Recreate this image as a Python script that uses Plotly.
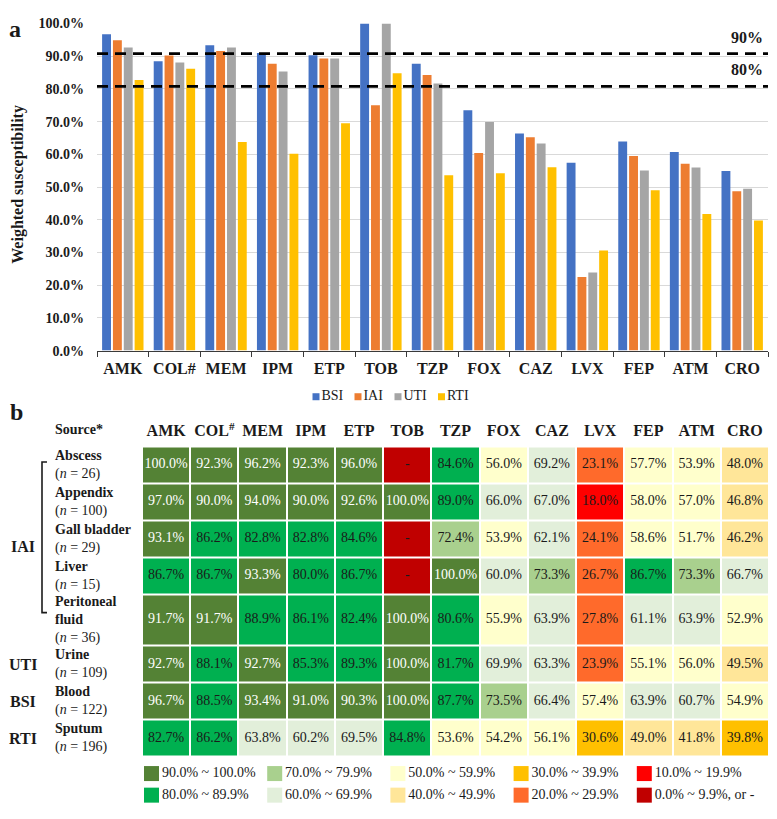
####################################################################################################################
# plot.py
#
# a: weighted susceptibility bars by infection source
# b: susceptibility table (heatmap) by specimen source

####################################################################################################################
# IMPORTS
import plotly.graph_objects as go


####################################################################################################################
# DATA
drugs = ['AMK', 'COL#', 'MEM', 'IPM', 'ETP', 'TOB', 'TZP', 'FOX', 'CAZ', 'LVX', 'FEP', 'ATM', 'CRO']
drug_heads = ['AMK', 'COL<sup>#</sup>', 'MEM', 'IPM', 'ETP', 'TOB', 'TZP', 'FOX', 'CAZ', 'LVX', 'FEP', 'ATM', 'CRO']

# weighted IAI susceptibility
iai_weighted = [94.9, 90.2, 91.6, 87.7, 89.3, 75.0, 84.3, 60.4, 65.2, 22.5, 59.5, 57.1, 48.7]

# panel b rows (None = '-')
abscess = [100.0, 92.3, 96.2, 92.3, 96.0, None, 84.6, 56.0, 69.2, 23.1, 57.7, 53.9, 48.0]
appendix = [97.0, 90.0, 94.0, 90.0, 92.6, 100.0, 89.0, 66.0, 67.0, 18.0, 58.0, 57.0, 46.8]
gall_bladder = [93.1, 86.2, 82.8, 82.8, 84.6, None, 72.4, 53.9, 62.1, 24.1, 58.6, 51.7, 46.2]
liver = [86.7, 86.7, 93.3, 80.0, 86.7, None, 100.0, 60.0, 73.3, 26.7, 86.7, 73.3, 66.7]
peritoneal = [91.7, 91.7, 88.9, 86.1, 82.4, 100.0, 80.6, 55.9, 63.9, 27.8, 61.1, 63.9, 52.9]
urine = [92.7, 88.1, 92.7, 85.3, 89.3, 100.0, 81.7, 69.9, 63.3, 23.9, 55.1, 56.0, 49.5]
blood = [96.7, 88.5, 93.4, 91.0, 90.3, 100.0, 87.7, 73.5, 66.4, 57.4, 63.9, 60.7, 54.9]
sputum = [82.7, 86.2, 63.8, 60.2, 69.5, 84.8, 53.6, 54.2, 56.1, 30.6, 49.0, 41.8, 39.8]

table_rows = [abscess, appendix, gall_bladder, liver, peritoneal, urine, blood, sputum]
source_names = ['Abscess', 'Appendix', 'Gall bladder', 'Liver', 'Peritoneal<br>fluid', 'Urine', 'Blood', 'Sputum']
source_n = [26, 100, 29, 15, 36, 109, 122, 196]
groups = ['IAI', 'UTI', 'BSI', 'RTI']
group_rows = [[0, 1, 2, 3, 4], [5], [6], [7]]

# bar series: BSI = blood, UTI = urine, RTI = sputum
series_names = ['BSI', 'IAI', 'UTI', 'RTI']
series_values = [blood, iai_weighted, urine, sputum]
series_colors = ['#4472C4', '#ED7D31', '#A5A5A5', '#FFC000']

ref_lines = [90.8, 80.8]
ref_labels = ['90%', '80%']

# colour bins, 0..9 -> 0-9.9 ... 90-100
bin_colors = ['#C00000', '#FF0000', '#FF6A2B', '#FFC000', '#FFE699',
              '#FFFFCC', '#E2EFDA', '#A9D08E', '#00B050', '#548235']
bin_labels = ['0.0% ~ 9.9%, or -', '10.0% ~ 19.9%', '20.0% ~ 29.9%', '30.0% ~ 39.9%', '40.0% ~ 49.9%',
              '50.0% ~ 59.9%', '60.0% ~ 69.9%', '70.0% ~ 79.9%', '80.0% ~ 89.9%', '90.0% ~ 100.0%']
legend_order = [9, 8, 7, 6, 5, 4, 3, 2, 1, 0]   # column by column, top then bottom


####################################################################################################################
# LAYOUT HELPERS
# the page keeps the browser's 8px body margin, so the figure is 16px smaller than the window
OFF = 8
FW, FH = 761, 803
FONT = 'Liberation Serif'
TXT = '#1a1a1a'

def px(x):   # window px -> paper
    return (x - OFF) / FW

def py(y):
    return 1 - (y - OFF) / FH

row_heights = [1, 1, 1, 1, 1.4, 1, 1, 1]   # peritoneal row is taller
y_edges = [0]
for h in row_heights:
    y_edges.append(y_edges[-1] + h)
y_centers = [(y_edges[i] + y_edges[i + 1]) / 2 for i in range(len(row_heights))]

bar_leg_x = [316, 358, 398, 441.5]
bar_leg_y = 397
col_leg_x0, col_leg_dx = 151.5, 123.2
col_leg_y = [781, 803]


####################################################################################################################
# FIGURE
fig = go.Figure()

# a: bars
for name, vals, col in zip(series_names, series_values, series_colors):
    fig.add_trace(go.Bar(x=drugs, y=vals, name=name, marker_color=col, marker_line_width=0,
                         showlegend=False, xaxis='x', yaxis='y'))

for v in ref_lines:
    fig.add_shape(type='line', xref='x domain', yref='y', x0=0, x1=1, y0=v, y1=v,
                  line=dict(color='black', width=2.6, dash='11px,7px'))
for v, lab in zip(ref_lines, ref_labels):
    fig.add_annotation(xref='paper', yref='y', x=px(747), y=v + 5, text='<b>' + lab + '</b>',
                       xanchor='center', yanchor='middle', showarrow=False, font=dict(size=16, color=TXT))

# a: legend (small squares, drawn on the page axis)
fig.add_trace(go.Scatter(x=bar_leg_x, y=[bar_leg_y] * 4, mode='markers+text', text=series_names,
                         textposition='middle right',
                         marker=dict(symbol='square', size=7, color=series_colors, line_width=0),
                         textfont=dict(size=14, color=TXT, family=FONT),
                         showlegend=False, hoverinfo='skip', xaxis='x3', yaxis='y3'))

# b: heatmap cells
z, cell_text, text_col, tx, ty = [], [], [], [], []
for r, row in enumerate(table_rows):
    zr = []
    for c, v in enumerate(row):
        b = 0 if v is None else min(int(v // 10), 9)
        zr.append(b)
        tx.append(drugs[c])
        ty.append(y_centers[r])
        cell_text.append('-' if v is None else '%.1f%%' % v)
        text_col.append('white' if b == 9 else TXT)
    z.append(zr)

cscale = []
for i, c in enumerate(bin_colors):
    cscale.append([i / 10, c])
    cscale.append([(i + 1) / 10, c])

fig.add_trace(go.Heatmap(x=drugs, y=y_edges, z=z, colorscale=cscale, zmin=-0.5, zmax=9.5,
                         showscale=False, xgap=2, ygap=2, hoverinfo='skip',
                         xaxis='x2', yaxis='y2'))
fig.add_trace(go.Scatter(x=tx, y=ty, mode='text', text=cell_text,
                         textfont=dict(size=14, color=text_col, family=FONT),
                         showlegend=False, hoverinfo='skip', xaxis='x2', yaxis='y2'))

# b: colour legend
lx, ly, lcol, ltxt = [], [], [], []
for k, b in enumerate(legend_order):
    lx.append(col_leg_x0 + (k // 2) * col_leg_dx)
    ly.append(col_leg_y[k % 2])
    lcol.append(bin_colors[b])
    ltxt.append(bin_labels[b])
fig.add_trace(go.Scatter(x=lx, y=ly, mode='markers+text', text=ltxt, textposition='middle right',
                         marker=dict(symbol='square', size=15, color=lcol, line_width=0),
                         textfont=dict(size=14, color=TXT, family=FONT),
                         showlegend=False, hoverinfo='skip', xaxis='x3', yaxis='y3'))

# b: row labels
for r in range(len(source_names)):
    fig.add_annotation(xref='paper', yref='y2', x=px(53), y=y_centers[r], xanchor='left', yanchor='middle',
                       align='left', showarrow=False,
                       text='<b>%s</b><br>(<i>n</i> = %d)' % (source_names[r], source_n[r]),
                       font=dict(size=14, color=TXT))
for g, rows in zip(groups, group_rows):
    yc = (y_edges[rows[0]] + y_edges[rows[-1] + 1]) / 2
    fig.add_annotation(xref='paper', yref='y2', x=px(23), y=yc, text='<b>' + g + '</b>',
                       xanchor='center', yanchor='middle', showarrow=False, font=dict(size=16, color=TXT))

# bracket for IAI rows
fig.add_shape(type='path', xref='paper', yref='y2',
              path='M %f,%f L %f,%f L %f,%f L %f,%f' % (px(47), 0.42, px(42), 0.42,
                                                      px(42), 4.5, px(47), 4.5),
              line=dict(color=TXT, width=1.6))

# other texts
fig.add_annotation(xref='paper', yref='paper', x=px(53), y=py(430), xanchor='left', yanchor='middle',
                   text='<b>Source*</b>', showarrow=False, font=dict(size=14, color=TXT))
fig.add_annotation(xref='paper', yref='paper', x=px(18), y=py(181), textangle=-90,
                   xanchor='center', yanchor='middle',
                   text='<b>Weighted susceptibility</b>', showarrow=False, font=dict(size=16, color=TXT))
fig.add_annotation(xref='paper', yref='paper', x=0, y=1, xanchor='left', yanchor='top', borderpad=0,
                   text='<b>a</b>', showarrow=False, font=dict(size=24, color=TXT))
fig.add_annotation(xref='paper', yref='paper', x=0, y=py(413), xanchor='left', yanchor='middle',
                   text='<b>b</b>', showarrow=False, font=dict(size=24, color=TXT))

fig.update_layout(
    width=FW, height=FH, margin=dict(l=0, r=0, t=0, b=0),
    paper_bgcolor='white', plot_bgcolor='rgba(0,0,0,0)',
    font=dict(family=FONT, color=TXT),
    barmode='group', bargap=0.16, bargroupgap=0.18,
    hovermode=False, showlegend=False,
    xaxis=dict(domain=[px(97), px(768)], showline=True, linecolor='#3a3a3a', linewidth=1.2,
               ticks='outside', tickson='boundaries', ticklen=5, tickcolor='#3a3a3a', tickangle=0,
               tickfont=dict(size=16, weight='bold'), ticklabelstandoff=3, fixedrange=True),
    yaxis=dict(domain=[py(350), py(16.7)], range=[0, 100], dtick=10, ticksuffix='%', tickformat='.1f',
               showgrid=True, gridcolor='#D9D9D9', gridwidth=1, zeroline=False,
               tickfont=dict(size=14, weight='bold'), ticklabelstandoff=12, fixedrange=True),
    xaxis2=dict(domain=[px(142), px(769)], range=[-0.5, 12.5], side='top', anchor='y2', tickangle=0,
                tickvals=drugs, ticktext=drug_heads, ticks='', showgrid=False, zeroline=False,
                tickfont=dict(size=16, weight='bold'), ticklabelstandoff=6, fixedrange=True),
    yaxis2=dict(domain=[py(763.7), py(447.7)], range=[y_edges[-1], 0], anchor='x2',
                showticklabels=False, showgrid=False, zeroline=False, fixedrange=True),
    # page axis: window pixels, used for the hand-placed legends
    xaxis3=dict(domain=[0, 1], range=[OFF, OFF + FW], visible=False, anchor='y3', fixedrange=True),
    yaxis3=dict(domain=[0, 1], range=[OFF + FH, OFF], visible=False, anchor='x3', fixedrange=True),
)

fig.write_html('out.html', config={'displayModeBar': False})
